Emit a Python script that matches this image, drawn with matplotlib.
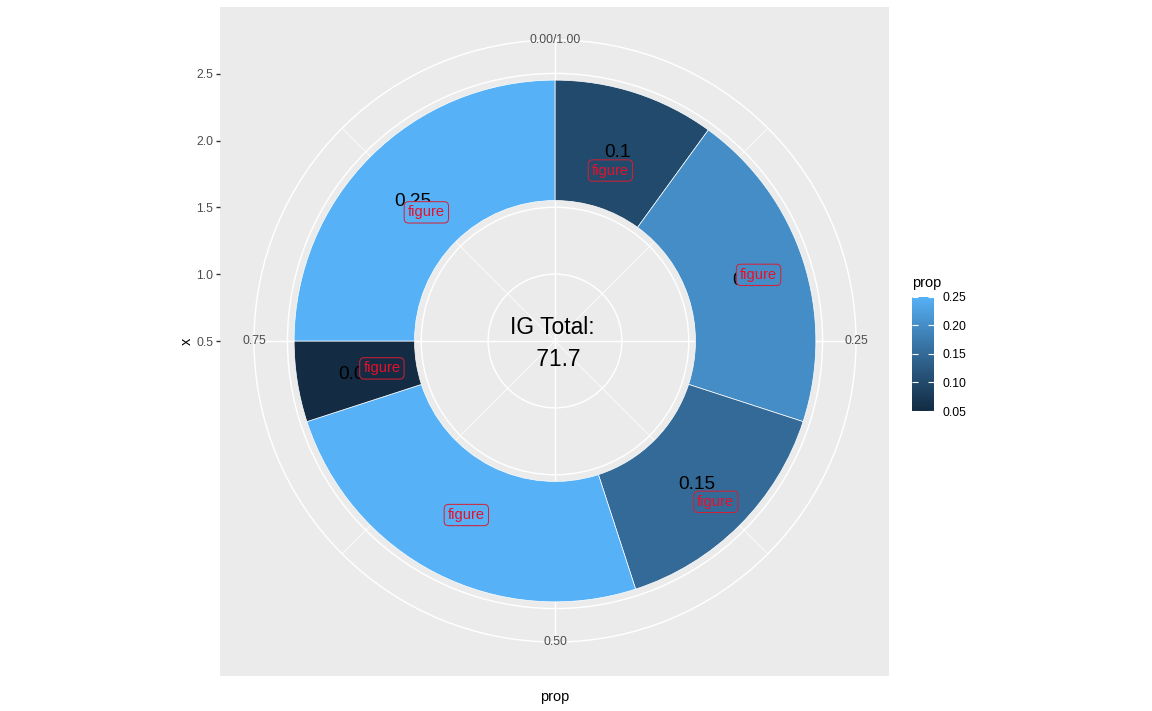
import numpy as np
import matplotlib
matplotlib.use('Agg')
import matplotlib.pyplot as plt
import matplotlib.colors as mcolors
import matplotlib.transforms as mtransforms
from matplotlib.cm import ScalarMappable

plt.rcParams['font.family'] = ['Liberation Sans', 'DejaVu Sans']

# data
props = [0.10, 0.20, 0.15, 0.25, 0.05, 0.25]
value_labels = ['0.1', '0.2', '0.15', '0.25', '0.05', '0.25']
figure_r = [1.84, 2.10, 2.20, 1.96, 1.81, 1.86]   # radius of each red "figure" label
bar_x = 2.0
bar_width = 0.9
text_r = 2.0
ig_total = 71.7
theta_breaks = [0.0, 0.25, 0.50, 0.75]
theta_minor = [0.125, 0.375, 0.625, 0.875]
theta_labels = ['0.00/1.00', '0.25', '0.50', '0.75']
r_breaks = [0.5, 1.0, 1.5, 2.0, 2.5]
legend_breaks = [0.05, 0.10, 0.15, 0.20, 0.25]

W, H = 1152, 711


# ggplot2 default continuous fill: #132B43 -> #56B1F7 interpolated in Lab
WHITE = np.array([0.95047, 1.0, 1.08883])
M = np.array([[0.4124, 0.3576, 0.1805],
              [0.2126, 0.7152, 0.0722],
              [0.0193, 0.1192, 0.9505]])


def to_lab(hexc):
    rgb = np.array(mcolors.to_rgb(hexc))
    lin = np.where(rgb <= 0.04045, rgb / 12.92, ((rgb + 0.055) / 1.055) ** 2.4)
    t = M @ lin / WHITE
    d = 6 / 29
    f = np.where(t > d ** 3, np.cbrt(t), t / (3 * d * d) + 4 / 29)
    return np.array([116 * f[1] - 16, 500 * (f[0] - f[1]), 200 * (f[1] - f[2])])


def from_lab(lab):
    L, a, b = lab
    fy = (L + 16) / 116
    f = np.array([fy + a / 500, fy, fy - b / 200])
    d = 6 / 29
    t = np.where(f > d, f ** 3, 3 * d * d * (f - 4 / 29)) * WHITE
    lin = np.linalg.solve(M, t)
    rgb = np.where(lin <= 0.0031308, 12.92 * lin, 1.055 * np.clip(lin, 0, None) ** (1 / 2.4) - 0.055)
    return np.clip(rgb, 0, 1)


lo, hi = to_lab('#132B43'), to_lab('#56B1F7')
cmap = mcolors.ListedColormap([from_lab(lo + (hi - lo) * s) for s in np.linspace(0, 1, 256)])
norm = mcolors.Normalize(min(props), max(props))
colors = [cmap(norm(p)) for p in props]

fig = plt.figure(figsize=(W / 100, H / 100), dpi=100)

# panel background with the radial ("x") axis on its left side
bg = fig.add_axes([220 / W, (H - 675.7) / H, 669 / W, 669 / H])
bg.set_facecolor('#EBEBEB')
for s in bg.spines.values():
    s.set_visible(False)
bg.set_xlim(0, 1)
bg.set_ylim(-2, 3)
bg.set_xticks([])
bg.set_yticks(r_breaks)
bg.set_yticklabels([f'{v:.1f}' for v in r_breaks])
bg.tick_params(axis='y', length=2.6, width=1.0, color='#333333',
               labelcolor='#4D4D4D', labelsize=8.8, pad=2.1)

# polar panel
pol = fig.add_axes([254 / W, 69 / H, 602 / W, 602 / H], projection='polar')
pol.set_facecolor('none')
pol.set_theta_zero_location('N')
pol.set_theta_direction(-1)
pol.set_ylim(0.5, 2.75)
pol.set_yticks(r_breaks[1:])
pol.set_yticklabels([])
pol.set_xticks([2 * np.pi * t for t in theta_breaks])
pol.set_xticks([2 * np.pi * t for t in theta_minor], minor=True)
pol.set_xticklabels([])
pol.tick_params(which='both', length=0)
pol.grid(which='major', color='white', linewidth=1.03)
pol.xaxis.grid(True, which='minor', color='white', linewidth=0.52)
pol.set_axisbelow(True)
pol.spines['polar'].set_color('white')
pol.spines['polar'].set_linewidth(1.03)

ends = np.cumsum(props)
mids = [2 * np.pi * (e - p / 2) for e, p in zip(ends, props)]
widths = [2 * np.pi * p for p in props]

pol.bar(mids, bar_width, width=widths, bottom=bar_x - bar_width / 2,
        color=colors, edgecolor='white', linewidth=0.5, zorder=2)

for th, lab in zip(mids, value_labels):
    pol.text(th, text_r, lab, ha='center', va='center_baseline', fontsize=13.65,
             color='black', zorder=3)

for th, r, c in zip(mids, figure_r, colors):
    pol.text(th, r, 'figure', ha='center', va='center', fontsize=10.56,
             color='#E8102A', zorder=4,
             bbox=dict(boxstyle='round,pad=0.25,rounding_size=0.3', fc=c,
                       ec='#D81E32', lw=0.7))

shift_down = mtransforms.offset_copy(pol.transData, fig=fig, x=0, y=-2.5, units='dots')
pol.text(0, 0.5, f'IG Total: \n {ig_total}', ha='center', va='center',
         fontsize=16.4, color='black', linespacing=1.5, zorder=3,
         transform=shift_down)

for t, lab in zip(theta_breaks, theta_labels):
    pol.text(2 * np.pi * t, 2.75, lab, ha='center', va='center',
             fontsize=8.8, color='#4D4D4D', clip_on=False)

# axis titles
fig.text(555 / W, 1 - 696.7 / H, 'prop', ha='center', va='center', fontsize=10.56)
fig.text(186.7 / W, 1 - 341 / H, 'x', ha='center', va='center', fontsize=10.56,
         rotation=90)

# colour bar legend
cax = fig.add_axes([912 / W, (H - 411) / H, 22 / W, 114.3 / H])
cb = fig.colorbar(ScalarMappable(norm=norm, cmap=cmap), cax=cax, ticks=legend_breaks)
cb.outline.set_visible(False)
cb.set_ticklabels([f'{v:.2f}' for v in legend_breaks])
cax.tick_params(direction='in', length=4.2, width=0.8, color='white',
                left=True, right=True, labelcolor='black', labelsize=8.8, pad=6)
fig.text(912 / W, 1 - 283 / H, 'prop', ha='left', va='center', fontsize=10.56)

fig.savefig('out.png', dpi=100)
